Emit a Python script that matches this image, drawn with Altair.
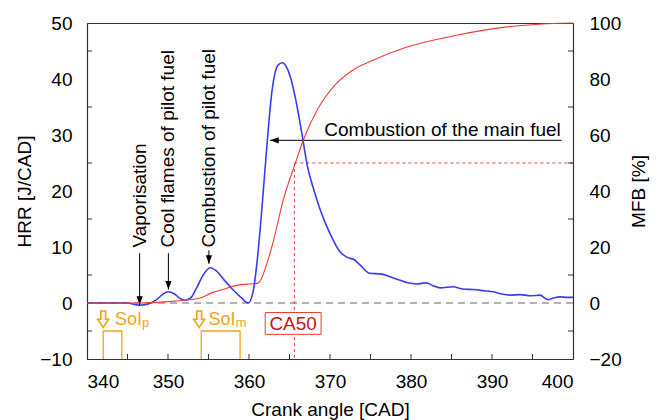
import altair as alt
import pandas as pd

# ---------------- data ----------------
hrr_x = [340, 342, 344, 345, 346, 346.5, 347.5, 348.5, 349.3, 350, 350.8, 351.5, 352.1, 352.8,
         353.5, 354.3, 355.2, 356, 357, 358, 359, 359.9, 360.5, 361.1, 361.6, 362.2, 362.8,
         363.2, 363.6, 364.1, 364.6, 365.1, 365.7, 366.5, 367.2, 367.9, 368.8, 370, 371.2,
         372.2, 372.9, 373.7, 374.9, 376.2, 377.4, 378.6, 379.6, 380.7, 381.9, 382.7, 383.6,
         385.2, 386.4, 387.7, 389, 390.2, 391.2, 392.2, 393.5, 394.7, 395.9, 396.9, 397.6,
         398.4, 399.2, 400]
hrr_y = [0, 0, 0, 0, -0.3, -0.4, -0.2, 0.5, 1.5, 2.0, 1.6, 0.8, 0.5, 0.9,
         2.6, 4.9, 6.3, 5.7, 4.0, 2.4, 1.0, 0.0, 2.0, 8.8, 17, 27.9, 37.4,
         41, 42.5, 42.9, 42.2, 40.4, 36.8, 30.5, 24.5, 20.7, 16.6, 12.4, 9.2,
         8.1, 7.8, 6.8, 5.3, 5.2, 4.7, 4.1, 3.6, 3.4, 3.6, 3.1, 2.7,
         2.9, 2.5, 2.4, 2.2, 2.0, 1.6, 1.4, 1.5, 1.3, 1.4, 0.6, 0.9,
         1.1, 1.0, 1.0]

mfb_x = [340, 346, 348, 350, 352, 354, 355.5, 357, 358.5, 360, 361, 361.5, 362.2, 363,
         364.2, 365.7, 366.7, 368.4, 370.8, 373, 375.3, 379.5, 385.6, 391.8, 395, 398.4, 400]
mfb_y = [0, 0, 0.2, 0.5, 1.0, 1.8, 3.8, 5.0, 6.3, 6.8, 7.0, 8.5, 14.0, 22,
         36.5, 49.8, 58.1, 68.8, 78.4, 83.5, 86.7, 91.4, 95.6, 98.6, 99.4, 99.9, 100]

x_ticks = [340, 350, 360, 370, 380, 390, 400]
hrr_ticks = [-10, 0, 10, 20, 30, 40, 50]
mfb_ticks = [-20, 0, 20, 40, 60, 80, 100]
x_minor = [345, 350, 355, 360, 365, 370, 375, 380, 385, 390, 395]
y_minor = [-5, 5, 15, 25, 35, 45]

# vertical annotations (text bottom anchor, arrow start, arrow tip)
ann_label = ["Vaporisation", "Cool flames of pilot fuel", "Combustion of pilot fuel"]
ann_x = [346.5, 350.05, 355.05]
ann_text_y = [9.9, 9.9, 9.9]
ann_from_y = [8.9, 8.9, 9.4]
ann_tip_y = [-0.35, 2.4, 7.0]

main_label = ["Combustion of the main fuel"]
main_text_x = [398.5]
main_text_y = [29.8]
main_from_x = [398.6]
main_tip_x = [362.6]
main_y = [29.05]

ca50_x = [365.6]
ca50_hrr = [25.0]
ca50_box = [362.0, 368.9, -1.7, -5.6]
ca50_label = ["CA50"]

pulse_x = [342.0, 342.0, 344.3, 344.3, 354.1, 354.1, 358.9, 358.9]
pulse_y = [-10, -5, -5, -10, -10, -5, -5, -10]
pulse_g = ["p", "p", "p", "p", "m", "m", "m", "m"]
soi_arrow_x = [342.0, 353.85]
soi_arrow_y = [-2.9, -2.9]
soi_text_x = [343.45, 355.0]
soi_sub_x = [346.8, 358.35]
soi_sub = ["p", "m"]
soi_text_y = [-4.0, -4.0]
soi_sub_y = [-4.3, -4.3]

# ---------------- styling ----------------
FONT = "Liberation Sans"
W, H = 486, 336
BLUE = "#3b3bf2"
RED = "#ee3a34"
ORANGE = "#f2a31b"
INK = "#333333"

xscale = alt.Scale(domain=[340, 400], nice=False)
hscale = alt.Scale(domain=[-10, 50], nice=False)
mscale = alt.Scale(domain=[-20, 100], nice=False)

xaxis = alt.Axis(values=x_ticks, title="Crank angle [CAD]", grid=False, ticks=False, tickSize=0,
                 labelPadding=13, titlePadding=9, domainColor=INK)
haxis = alt.Axis(values=hrr_ticks, title="HRR [J/CAD]", grid=False, ticks=False, tickSize=0,
                 labelPadding=15, titlePadding=5, domainColor=INK)
maxis = alt.Axis(values=mfb_ticks, title="MFB [%]", grid=False, ticks=False, tickSize=0,
                 orient="right", labelPadding=16, titlePadding=27, titleAngle=270,
                 titleBaseline="bottom", domainColor=INK)


def X(f):
    return alt.X(f, type="quantitative", scale=xscale, axis=xaxis)


def Y(f):
    return alt.Y(f, type="quantitative", scale=hscale, axis=haxis)


hrr_df = pd.DataFrame({"x": hrr_x, "y": hrr_y})
mfb_df = pd.DataFrame({"x": mfb_x, "y": mfb_y})

zero = alt.Chart(pd.DataFrame({"v": [0]})).mark_rule(
    color="#666666", strokeDash=[7, 5], strokeWidth=1.2).encode(y=Y("v"))

ca_df = pd.DataFrame({"x": ca50_x, "y": ca50_hrr, "x2": [400], "y2": [-10]})
ca_v = alt.Chart(ca_df).mark_rule(color=RED, strokeDash=[3, 3], strokeWidth=1).encode(
    x=X("x"), y=Y("y"), y2="y2")
ca_h = alt.Chart(ca_df).mark_rule(color=RED, strokeDash=[3, 3], strokeWidth=1).encode(
    x=X("x"), x2="x2", y=Y("y"))
box_df = pd.DataFrame({"x": [ca50_box[0]], "x2": [ca50_box[1]], "y": [ca50_box[2]],
                       "y2": [ca50_box[3]]})
ca_box = alt.Chart(box_df).mark_rect(fill="white", stroke=RED, strokeWidth=1).encode(
    x=X("x"), x2="x2", y=Y("y"), y2="y2")
ca_txt = alt.Chart(pd.DataFrame({"x": [(ca50_box[0] + ca50_box[1]) / 2],
                                 "y": [(ca50_box[2] + ca50_box[3]) / 2], "t": ca50_label})).mark_text(
    font=FONT, fontSize=19, color="#cc1111", baseline="middle", align="center", dy=1).encode(
    x=X("x"), y=Y("y"), text="t")

pulse_df = pd.DataFrame({"x": pulse_x, "y": pulse_y, "g": pulse_g, "i": list(range(len(pulse_x)))})
pulses = alt.Chart(pulse_df).mark_line(color=ORANGE, strokeWidth=1.3).encode(
    x=X("x"), y=Y("y"), detail="g", order="i:Q")

HOLLOW = "M -0.29 -1 L 0.29 -1 L 0.29 0 L 0.66 0 L 0 1 L -0.66 0 L -0.29 0 Z"
soi_arr = alt.Chart(pd.DataFrame({"x": soi_arrow_x, "y": soi_arrow_y})).mark_point(
    shape=HOLLOW, filled=True, fill="#fffaf0", stroke=ORANGE, strokeWidth=1.6, size=276,
    opacity=1).encode(x=X("x"), y=Y("y"))
soi_df = pd.DataFrame({"x": soi_text_x, "xs": soi_sub_x, "y": soi_text_y, "ys": soi_sub_y,
                       "s": soi_sub, "t": ["SoI", "SoI"]})
soi_txt = alt.Chart(soi_df).mark_text(font=FONT, fontSize=18, color=ORANGE, align="left",
                                      baseline="alphabetic").encode(x=X("x"), y=Y("y"), text="t")
soi_subt = alt.Chart(soi_df).mark_text(font=FONT, fontSize=13, color=ORANGE, align="left",
                                       baseline="alphabetic").encode(x=X("xs"), y=Y("ys"), text="s")

blue = alt.Chart(hrr_df).mark_line(color=BLUE, strokeWidth=1.6, interpolate="monotone").encode(
    x=X("x"), y=Y("y"))

ann_df = pd.DataFrame({"x": ann_x, "ty": ann_text_y, "fy": ann_from_y, "tip": ann_tip_y,
                       "t": ann_label})
ann_txt = alt.Chart(ann_df).mark_text(font=FONT, fontSize=19, color="black", angle=270,
                                      align="left", baseline="middle").encode(
    x=X("x"), y=Y("ty"), text="t")
ann_line = alt.Chart(ann_df).mark_rule(color="black", strokeWidth=1).encode(
    x=X("x"), y=Y("fy"), y2="tip")
DOWN = "M 0 0 L -0.36 -1 L 0.36 -1 Z"
ann_head = alt.Chart(ann_df).mark_point(shape=DOWN, filled=True, color="black", size=300,
                                        opacity=1).encode(x=X("x"), y=Y("tip"))

main_df = pd.DataFrame({"tx": main_text_x, "ty": main_text_y, "fx": main_from_x,
                        "tip": main_tip_x, "y": main_y, "t": main_label})
main_txt = alt.Chart(main_df).mark_text(font=FONT, fontSize=19, color="black", align="right",
                                        baseline="alphabetic").encode(x=X("tx"), y=Y("ty"), text="t")
main_line = alt.Chart(main_df).mark_rule(color="black", strokeWidth=1).encode(
    x=X("fx"), x2="tip", y=Y("y"))
LEFT = "M 0 0 L 1 -0.36 L 1 0.36 Z"
main_head = alt.Chart(main_df).mark_point(shape=LEFT, filled=True, color="black", size=300,
                                          opacity=1).encode(x=X("tip"), y=Y("y"))

# inward ticks
lt = alt.Chart(pd.DataFrame({"v": y_minor})).mark_rule(color=INK).encode(
    y=Y("v"), x=alt.value(0), x2=alt.value(5))
rt = alt.Chart(pd.DataFrame({"v": y_minor})).mark_rule(color=INK).encode(
    y=Y("v"), x=alt.value(W - 5), x2=alt.value(W))
bt = alt.Chart(pd.DataFrame({"v": x_minor})).mark_rule(color=INK).encode(
    x=X("v"), y=alt.value(H), y2=alt.value(H - 5))

hrr_layer = alt.layer(zero, ca_v, ca_h, ca_box, ca_txt, pulses, soi_arr, soi_txt, soi_subt,
                      blue, ann_line, ann_head, ann_txt, main_line, main_head, main_txt,
                      lt, rt, bt)

red = alt.Chart(mfb_df).mark_line(color=RED, strokeWidth=1.1, interpolate="monotone").encode(
    x=X("x"), y=alt.Y("y", type="quantitative", scale=mscale, axis=maxis))

chart = alt.layer(hrr_layer, red).resolve_scale(y="independent").properties(
    width=W, height=H,
    autosize=alt.AutoSizeParams(type="none"),
    padding={"left": 87, "top": 23, "right": 87, "bottom": 61},
    background="white",
).configure_view(stroke=INK, strokeWidth=1).configure_axis(
    labelFont=FONT, titleFont=FONT, labelFontSize=19, titleFontSize=19,
    titleFontWeight="normal", labelColor="black", titleColor="black", domainWidth=1.2,
)

chart.save("out.html", embed_options={"renderer": "svg", "actions": False})
